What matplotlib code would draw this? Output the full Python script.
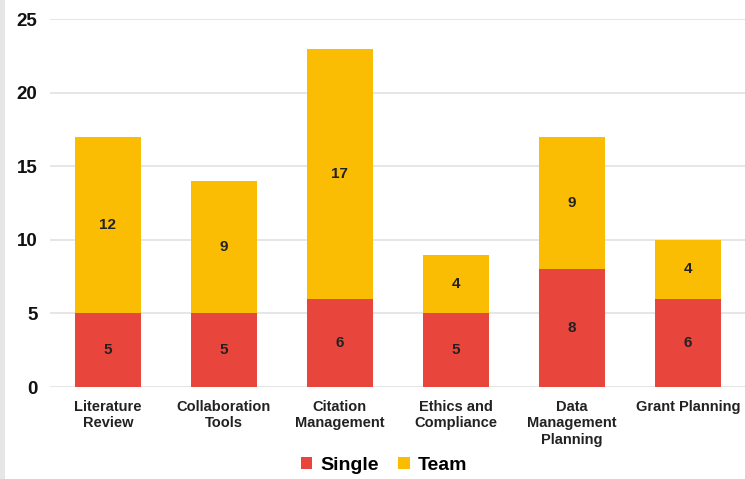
import matplotlib.pyplot as plt
import matplotlib.patches as mpatches
import numpy as np

plt.rcParams['font.family'] = ['Liberation Sans', 'DejaVu Sans']

categories = ['Literature\nReview', 'Collaboration\nTools', 'Citation\nManagement',
              'Ethics and\nCompliance', 'Data\nManagement\nPlanning', 'Grant Planning']
single = [5, 5, 6, 5, 8, 6]
team = [12, 9, 17, 4, 9, 4]
yticks = [0, 5, 10, 15, 20, 25]

red = '#E8453C'
yellow = '#FBBC04'

fig = plt.figure(figsize=(7.45, 4.79), dpi=100)
ax = fig.add_axes([0.067, 0.192, 0.934, 0.768])

x = np.arange(len(categories))
b1 = ax.bar(x, single, width=0.57, color=red, label='Single', zorder=3)
b2 = ax.bar(x, team, width=0.57, bottom=single, color=yellow, label='Team', zorder=3)

# segment values in the middle of each stack piece
for bars in (b1, b2):
    ax.bar_label(bars, label_type='center', fontsize=11, fontweight='bold', color='#222222')

ax.set_xlim(-0.5, len(categories) - 0.5)
ax.set_ylim(0, 25)
ax.set_yticks(yticks)
ax.set_xticks(x)
ax.set_xticklabels(categories, fontsize=10.5, fontweight='bold', color='#222222',
                   linespacing=1.25)
ax.tick_params(axis='y', labelsize=13.5, length=0, pad=9)
for lbl in ax.get_yticklabels():
    lbl.set_fontweight('bold')
    lbl.set_color('#111111')
ax.tick_params(axis='x', length=0, pad=9)
ax.yaxis.grid(True, color='#e2e2e2', linewidth=1.2, zorder=0)
for s in ax.spines.values():
    s.set_visible(False)

leg = ax.legend(loc='upper center', bbox_to_anchor=(0.48, -0.158), ncol=2, frameon=False,
                handlelength=0.6, handleheight=0.6, handletextpad=0.4,
                columnspacing=1.0, borderpad=0.1, prop={'weight': 'bold', 'size': 14})

# thin grey strip down the left edge
fig.patches.append(mpatches.Rectangle((0, 0), 5 / 745, 1, transform=fig.transFigure,
                                      facecolor='#e6e6e6', edgecolor='none'))

fig.savefig('out.png', dpi=100)
plt.close(fig)
